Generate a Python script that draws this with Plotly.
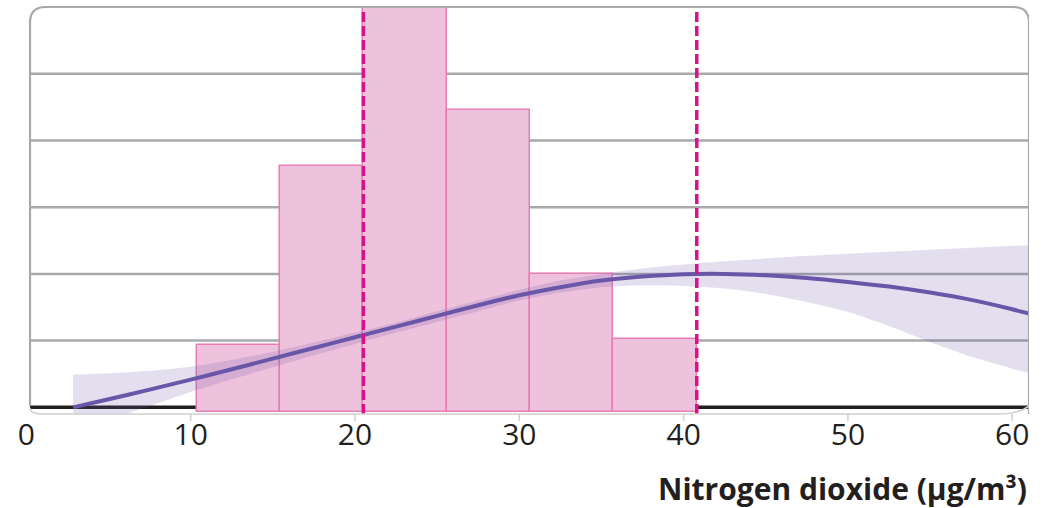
import plotly.graph_objects as go

# ---- data ----
bin_edges = [10.37, 15.44, 20.51, 25.58, 30.65, 35.72, 40.80]
bin_heights = [0.93, 3.62, 6.0, 4.46, 2.0, 1.02]

thresholds = [20.51, 40.80]

curve_x = [2.84, 5, 7.5, 10, 12.5, 15, 17.5, 20, 22.5, 25, 27.5, 30, 32.5,
           35, 37.5, 40, 42.5, 45, 47.5, 50, 52.5, 55, 57.5, 60, 61.1]
curve_y = [0.0, 0.12, 0.265, 0.415, 0.57, 0.73, 0.89, 1.05, 1.21, 1.37, 1.53, 1.68, 1.8,
           1.9, 1.96, 1.995, 2.0, 1.98, 1.94, 1.88, 1.81, 1.72, 1.61, 1.47, 1.40]
band_upper = [0.49, 0.51, 0.55, 0.61, 0.71, 0.83, 0.97, 1.12, 1.27, 1.44, 1.6, 1.76, 1.9,
              2.0, 2.08, 2.14, 2.19, 2.23, 2.27, 2.3, 2.33, 2.36, 2.39, 2.42, 2.43]
band_lower = [-0.32, -0.18, 0.02, 0.23, 0.42, 0.6, 0.78, 0.95, 1.12, 1.28, 1.44, 1.6, 1.72,
              1.8, 1.83, 1.82, 1.78, 1.7, 1.58, 1.43, 1.22, 0.98, 0.76, 0.58, 0.51]

x_ticks = [0, 10, 20, 30, 40, 50, 60]
grid_levels = [1, 2, 3, 4, 5]
x_title = "Nitrogen dioxide (μg/m³)"

# ---- styles ----
X_RANGE = [-0.329, 61.02]
FRAME_X = [0.22, 61.02]
Y_RANGE = [-0.1, 6.0]
BAR_BASE = -0.07
BAR_FILL = "#eec2dc"
BAR_EDGE = "#e87db6"
PURPLE = "#6a56a8"
BAND = "rgba(106,86,168,0.19)"
MAGENTA = "#d6138b"
GRID = "#a7a9ac"
LIGHT = "#cfcfd1"
TEXT = "#231f20"

centers = [(a + b) / 2 for a, b in zip(bin_edges[:-1], bin_edges[1:])]
widths = [b - a for a, b in zip(bin_edges[:-1], bin_edges[1:])]
lengths = [h - BAR_BASE for h in bin_heights]

fig = go.Figure()

fig.add_trace(go.Bar(
    x=centers, y=lengths, base=BAR_BASE, width=widths,
    marker=dict(color=BAR_FILL, line=dict(color=BAR_EDGE, width=1.5)),
    hoverinfo="skip", showlegend=False,
))
fig.add_trace(go.Scatter(
    x=curve_x, y=band_lower, mode="lines",
    line=dict(width=0, shape="spline", smoothing=0.8),
    hoverinfo="skip", showlegend=False,
))
fig.add_trace(go.Scatter(
    x=curve_x, y=band_upper, mode="lines",
    line=dict(width=0, shape="spline", smoothing=0.8),
    fill="tonexty", fillcolor=BAND, hoverinfo="skip", showlegend=False,
))
fig.add_trace(go.Scatter(
    x=curve_x, y=curve_y, mode="lines",
    line=dict(color=PURPLE, width=4, shape="spline", smoothing=0.6),
    hoverinfo="skip", showlegend=False,
))

x0, x1 = FRAME_X
# horizontal grid lines (under bars)
for g in grid_levels:
    fig.add_shape(type="line", xref="x", yref="y", x0=x0, x1=x1, y0=g, y1=g,
                  line=dict(color=GRID, width=2.5), layer="below")
# black baseline (under bars)
fig.add_shape(type="line", xref="x", yref="y", x0=x0, x1=x1, y0=0, y1=0,
              line=dict(color=TEXT, width=3.5), layer="below")

# small tick marks below the baseline
for t in x_ticks[1:]:
    fig.add_shape(type="line", xref="x", yref="paper", x0=t, x1=t, y0=0, y1=-0.017,
                  line=dict(color=LIGHT, width=1.5), layer="above")

# dashed threshold lines
for t in thresholds:
    fig.add_shape(type="line", xref="x", yref="paper", x0=t, x1=t, y0=0, y1=1.0,
                  line=dict(color=MAGENTA, width=3.5, dash="10px,4px"), layer="above")

# rounded frame: top and sides
rx, ry = 0.95, 0.038
frame = (f"M {x0},0.02 L {x0},{1-ry} Q {x0},1 {x0+rx},1 "
         f"L {x1-rx},1 Q {x1},1 {x1},{1-ry} L {x1},0.0")
fig.add_shape(type="path", xref="x", yref="paper", path=frame,
              line=dict(color=GRID, width=2.2), layer="above")
# bottom line, lighter with soft corners
bottom = (f"M {x0},0.015 Q {x0},0 {x0+0.9},0 L {x1-1.9},0 "
          f"Q {x1-0.6},0 {x1},0.02")
fig.add_shape(type="path", xref="x", yref="paper", path=bottom,
              line=dict(color=LIGHT, width=1.6), layer="above")

fig.add_annotation(
    text=f"<b>{x_title}</b>", xref="x", yref="paper",
    x=x1, y=-0.184, xanchor="right", yanchor="middle", showarrow=False,
    font=dict(family="Open Sans", size=30, color=TEXT),
)

fig.update_xaxes(
    range=X_RANGE, tickmode="array", tickvals=x_ticks,
    ticks="", ticklen=0,
    tickfont=dict(family="Open Sans", size=30, color=TEXT),
    showgrid=False, zeroline=False, showline=False, fixedrange=True,
)
fig.update_yaxes(
    range=Y_RANGE, showticklabels=False, showgrid=False,
    zeroline=False, showline=False, ticks="", fixedrange=True,
)

fig.update_layout(
    width=1042, height=508,
    margin=dict(l=21, r=13, t=7, b=94),
    paper_bgcolor="white", plot_bgcolor="white",
    bargap=0, showlegend=False,
)

fig.write_html("out.html", config={"displayModeBar": False},
               post_script="document.body.style.margin='0';")
